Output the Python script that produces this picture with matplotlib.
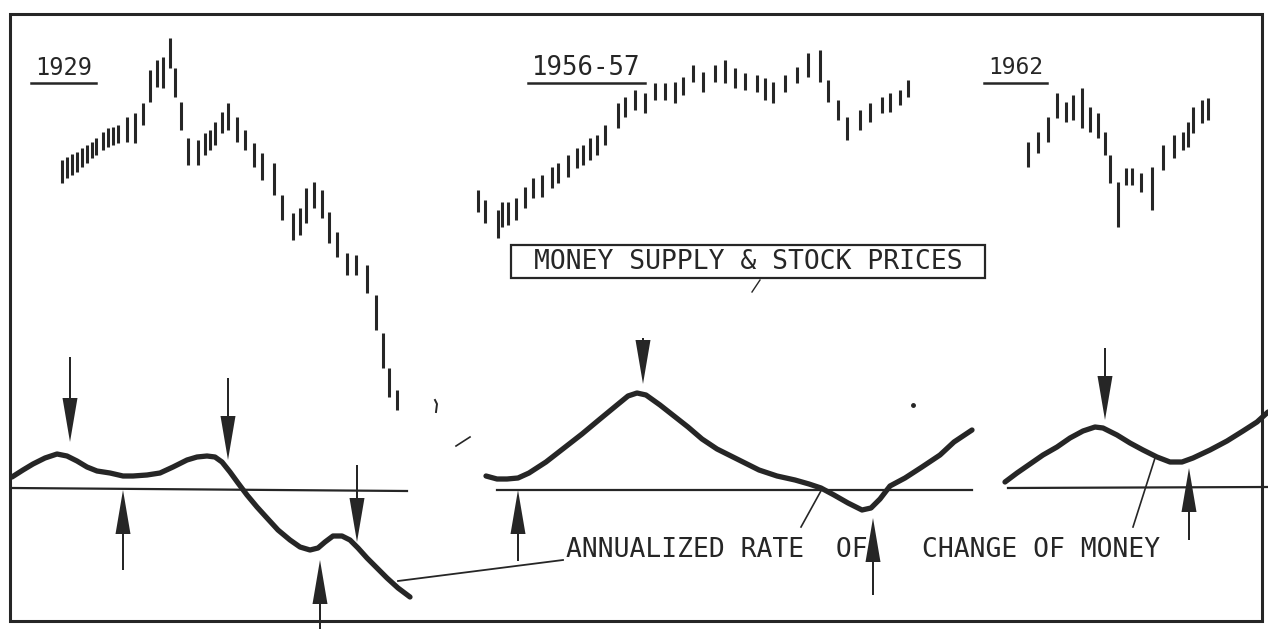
import matplotlib.pyplot as plt
from matplotlib.patches import Rectangle

# Chart units: x runs left to right, y runs top to bottom (0 = top of sheet)

# --- weekly price bars: x position, high end, low end ---
bars_1929_x = [62, 67, 72, 77, 82, 87, 92, 96, 103, 108, 113, 118, 127, 135, 143, 150,
               157, 163, 170, 175, 181, 188, 198, 205, 210, 215, 222, 228, 237, 245, 254,
               262, 274, 282, 293, 300, 306, 314, 322, 329, 337, 347, 356, 367, 376, 383,
               389, 397]
bars_1929_hi = [160, 157, 154, 152, 148, 145, 142, 138, 132, 128, 127, 125, 117, 113, 103, 70,
                60, 57, 38, 68, 102, 138, 140, 133, 130, 122, 112, 103, 117, 130, 143,
                153, 163, 195, 213, 208, 188, 182, 190, 212, 232, 253, 255, 265, 295, 333,
                368, 390]
bars_1929_lo = [183, 178, 175, 172, 167, 163, 158, 155, 150, 147, 145, 143, 142, 143, 125, 102,
                87, 88, 68, 97, 130, 165, 165, 155, 150, 145, 133, 130, 142, 150, 167,
                180, 195, 220, 240, 235, 223, 208, 218, 243, 257, 275, 275, 293, 330, 368,
                397, 410]

bars_1956_x = [478, 485, 498, 502, 508, 516, 525, 533, 542, 552, 558, 568, 577, 583, 590, 597,
               605, 618, 625, 635, 645, 655, 665, 675, 683, 693, 703, 715, 725, 735, 745,
               757, 765, 773, 785, 797, 808, 820, 828, 838, 847, 860, 870, 882, 890, 900, 908]
bars_1956_hi = [190, 200, 210, 202, 202, 198, 187, 178, 175, 167, 163, 155, 148, 145, 138, 135,
                125, 103, 97, 90, 93, 83, 83, 82, 77, 65, 72, 65, 60, 68, 73,
                75, 78, 82, 75, 67, 53, 50, 80, 100, 117, 110, 103, 97, 93, 90, 80]
bars_1956_lo = [212, 223, 238, 227, 225, 220, 208, 198, 197, 188, 183, 177, 168, 165, 160, 155,
                145, 128, 117, 110, 113, 100, 100, 103, 95, 82, 92, 82, 83, 88, 90,
                92, 100, 103, 92, 83, 77, 82, 102, 120, 140, 130, 122, 113, 112, 105, 97]

bars_1962_x = [1028, 1038, 1048, 1057, 1066, 1073, 1082, 1090, 1098, 1105, 1110, 1118, 1126,
               1132, 1141, 1152, 1163, 1174, 1183, 1188, 1193, 1202, 1208]
bars_1962_hi = [142, 132, 117, 93, 102, 95, 88, 107, 113, 132, 155, 182, 168,
                168, 173, 167, 145, 135, 132, 122, 107, 100, 98]
bars_1962_lo = [167, 153, 142, 118, 122, 120, 128, 132, 138, 155, 183, 227, 185,
                185, 192, 210, 170, 158, 150, 147, 133, 123, 120]

# --- annualized rate of change of money ---
money_1929_x = [12, 23, 33, 45, 57, 67, 77, 87, 97, 110, 123, 133, 147, 160, 173, 187, 197,
                207, 215, 222, 230, 238, 247, 257, 267, 278, 290, 300, 310, 318, 325, 333,
                342, 350, 358, 367, 377, 387, 398, 410]
money_1929_y = [477, 470, 464, 458, 454, 456, 461, 467, 471, 473, 476, 476, 475, 473, 467, 460,
                457, 456, 457, 462, 472, 483, 495, 507, 518, 530, 540, 547, 550, 548, 542, 536,
                536, 540, 548, 558, 568, 578, 588, 597]

money_1956_x = [486, 497, 507, 518, 529, 546, 564, 582, 600, 617, 628, 637, 646, 660, 674, 688,
                702, 717, 731, 745, 759, 777, 795, 809, 821, 834, 848, 862, 871, 880, 890,
                905, 922, 940, 954, 972]
money_1956_y = [476, 479, 479, 478, 473, 462, 448, 434, 419, 405, 396, 393, 395, 405, 416, 427,
                439, 449, 456, 463, 470, 476, 480, 484, 488, 495, 503, 510, 508, 499, 486,
                478, 467, 455, 442, 430]

money_1962_x = [1005, 1017, 1030, 1043, 1057, 1070, 1083, 1095, 1103, 1117, 1130, 1143, 1157,
                1170, 1182, 1193, 1210, 1227, 1243, 1257, 1268]
money_1962_y = [482, 473, 464, 455, 447, 438, 431, 427, 428, 435, 443, 450, 457,
                462, 462, 458, 450, 441, 431, 422, 412]

# zero lines: x start, x end, y start, y end
zero_lines = [(12, 407, 488, 491), (497, 972, 490, 490), (1008, 1268, 488, 487)]

# turning-point arrows: x, tail, tip
arrow_x = [70, 123, 228, 357, 320, 518, 643, 873, 1105, 1189]
arrow_tail = [357, 570, 378, 465, 640, 561, 338, 595, 348, 540]
arrow_tip = [442, 490, 460, 542, 560, 490, 384, 518, 420, 468]

years = ['1929', '1956-57', '1962']
year_x = [35, 532, 988]
year_size = [17, 18.5, 16.5]
ink = '#262626'

fig = plt.figure(figsize=(12.68, 6.29), dpi=100)
ax = fig.add_axes([0, 0, 1, 1])
ax.set_xlim(0, 1268)
ax.set_ylim(629, 0)
ax.axis('off')

# border of the sheet
ax.add_patch(Rectangle((10, 14), 1252, 607, fill=False, lw=2.2, ec=ink))

for bx, hi, lo in [(bars_1929_x, bars_1929_hi, bars_1929_lo),
                   (bars_1956_x, bars_1956_hi, bars_1956_lo),
                   (bars_1962_x, bars_1962_hi, bars_1962_lo)]:
    ax.vlines(bx, hi, lo, colors=ink, lw=2.2)

for mx, my in [(money_1929_x, money_1929_y), (money_1956_x, money_1956_y),
               (money_1962_x, money_1962_y)]:
    ax.plot(mx, my, color=ink, lw=3.8, solid_joinstyle='round', solid_capstyle='round')

for x0, x1, y0, y1 in zero_lines:
    ax.plot([x0, x1], [y0, y1], color=ink, lw=1.6)

for x, t0, t1 in zip(arrow_x, arrow_tail, arrow_tip):
    ax.arrow(x, t0, 0, t1 - t0, width=2.0, head_width=15, head_length=44,
             length_includes_head=True, color=ink, lw=0)

# year labels with underlines
for label, x, fs in zip(years, year_x, year_size):
    t = ax.text(x, 68, label, family='DejaVu Sans Mono', fontsize=fs, color=ink,
                ha='left', va='center')
    fig.canvas.draw()
    bb = t.get_window_extent().transformed(ax.transData.inverted())
    ax.plot([bb.x0 - 4, bb.x1 + 4], [83, 83], color=ink, lw=1.8)

# title box
ax.add_patch(Rectangle((511, 245), 474, 33, fill=False, lw=1.6, ec=ink))
ax.text(748, 262, 'MONEY SUPPLY & STOCK PRICES', family='DejaVu Sans Mono',
        fontsize=19, color=ink, ha='center', va='center')
ax.plot([760, 752], [280, 292], color=ink, lw=1.0)

# curve caption and leader lines
ax.text(566, 550, 'ANNUALIZED RATE  OF', family='DejaVu Sans Mono', fontsize=19,
        color=ink, ha='left', va='center')
ax.text(922, 550, 'CHANGE OF MONEY', family='DejaVu Sans Mono', fontsize=19,
        color=ink, ha='left', va='center')
ax.plot([398, 563], [581, 560], color=ink, lw=1.3)
ax.plot([801, 822], [527, 489], color=ink, lw=1.2)
ax.plot([1133, 1155], [527, 458], color=ink, lw=1.2)

# small pen marks
ax.plot([435, 437, 436], [400, 404, 412], color=ink, lw=1.4)
ax.plot([456, 470], [446, 437], color=ink, lw=1.2)
ax.plot([913], [405], 'o', color=ink, ms=2.5)

fig.savefig('out.png', dpi=100, facecolor='white')
